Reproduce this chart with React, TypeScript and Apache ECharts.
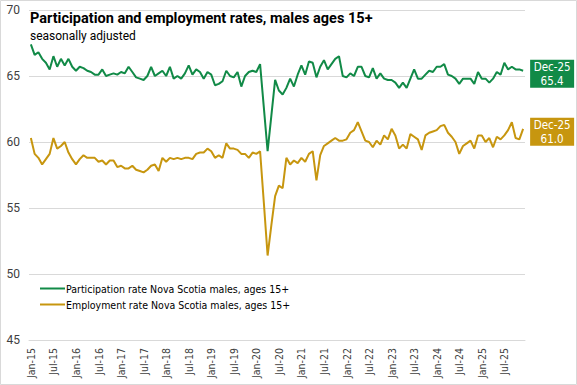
import React, { useEffect, useRef } from "react";
import * as echarts from "echarts";

const MONTHS = ["Jan", "Feb", "Mar", "Apr", "May", "Jun", "Jul", "Aug", "Sep", "Oct", "Nov", "Dec"];
const YEARS = ["15", "16", "17", "18", "19", "20", "21", "22", "23", "24", "25"];
const categories: string[] = [];
YEARS.forEach((y) => MONTHS.forEach((m) => categories.push(`${m}-${y}`)));

const participation = [
  67.4, 66.6, 66.8, 66.3, 66.0, 65.5, 66.5, 65.7, 66.3, 65.8, 66.3, 65.7,
  65.4, 65.7, 65.6, 65.4, 65.3, 65.1, 65.1, 65.5, 65.0, 65.1, 65.2, 65.1,
  65.3, 65.2, 65.7, 65.3, 64.9, 64.8, 64.7, 65.0, 65.7, 65.0, 65.2, 65.4,
  65.0, 65.7, 64.8, 65.0, 64.8, 65.2, 65.8, 65.1, 65.5, 65.3, 64.8, 65.3,
  65.1, 64.3, 64.4, 64.6, 65.4, 65.0, 64.9, 65.3, 64.2, 65.0, 65.3, 65.4,
  65.3, 65.9, 62.6, 59.3, 62.0, 64.7, 63.9, 63.6, 64.1, 64.8, 64.2, 65.1,
  65.8, 65.1, 66.1, 66.0, 64.9, 65.7, 66.2, 65.5, 65.9, 66.3, 66.5, 65.0,
  64.9, 65.2, 65.0, 65.7, 65.7, 65.0, 64.9, 65.6, 64.8, 65.2, 64.8, 64.7,
  64.7, 64.5, 64.1, 64.5, 64.1, 64.8, 65.5, 64.8, 64.8, 65.1, 65.4, 65.3,
  65.7, 65.7, 65.9, 65.1, 65.0, 64.8, 64.4, 64.8, 64.8, 64.8, 64.4, 65.3,
  64.8, 64.8, 64.5, 64.8, 65.3, 65.1, 66.0, 65.5, 65.7, 65.5, 65.5, 65.4,
];

const employment = [
  60.3, 59.1, 58.8, 58.3, 58.7, 59.1, 60.3, 59.5, 59.7, 60.0, 59.2, 58.7,
  58.3, 58.7, 59.0, 58.8, 58.8, 58.8, 58.5, 58.6, 58.3, 58.6, 58.6, 58.1,
  58.2, 58.0, 58.0, 58.2, 57.9, 57.8, 57.7, 57.9, 58.2, 58.3, 57.8, 58.8,
  58.5, 58.8, 58.7, 58.8, 58.7, 58.8, 58.8, 58.7, 59.1, 59.2, 59.2, 59.5,
  59.3, 58.8, 59.0, 58.8, 59.9, 59.5, 59.5, 59.4, 59.1, 59.1, 58.8, 59.2,
  59.1, 59.3, 55.4, 51.4, 53.7, 55.9, 56.7, 56.5, 58.8, 58.3, 58.6, 58.4,
  58.8, 58.5, 59.1, 59.3, 57.1, 59.0, 59.7, 59.9, 60.1, 60.3, 60.1, 60.1,
  60.2, 60.7, 60.9, 61.5, 60.8, 60.1, 60.0, 59.6, 60.1, 59.8, 60.5, 60.2,
  61.0, 60.5, 59.5, 59.8, 59.5, 60.6, 60.4, 60.2, 59.4, 60.5, 60.7, 60.8,
  60.9, 61.2, 61.3, 60.7, 60.4, 60.0, 59.1, 59.7, 59.9, 60.1, 59.5, 60.5,
  60.5, 60.0, 60.3, 59.6, 60.4, 60.2, 60.5, 60.9, 61.5, 60.3, 60.2, 61.0,
];

const SERIES_NAMES = [
  "Participation rate Nova Scotia males, ages 15+",
  "Employment rate Nova Scotia males, ages 15+",
];
const TITLE = "Participation and employment rates, males ages 15+";
const SUBTITLE = "seasonally adjusted";

const GREEN = "#118a47";
const GOLD = "#c7960f";
const NARROW = "'DejaVu Sans Condensed', sans-serif";

export default function App() {
  const ref = useRef<HTMLDivElement>(null);
  useEffect(() => {
    document.body.style.margin = "0";
    if (!ref.current) return;
    const chart = echarts.init(ref.current, null, { renderer: "svg" });
    const endLabel = (color: string) => ({
      show: true,
      formatter: (p: any) => `${categories[p.dataIndex]}\n${Number(p.value).toFixed(1)}`,
      backgroundColor: color,
      color: "#fff",
      fontFamily: NARROW,
      fontSize: 11.5,
      lineHeight: 14,
      padding: [0, 4, 0, 4],
      distance: 6,
      offset: [23, 3],
      align: "center",
      width: 36,
    });
    chart.setOption({
      animation: false,
      backgroundColor: "#fff",
      title: {
        text: TITLE,
        subtext: SUBTITLE,
        left: 25,
        top: 11,
        itemGap: 4,
        textStyle: { fontFamily: "Roboto", fontWeight: "bold", fontSize: 14.5, color: "#000" },
        subtextStyle: { fontFamily: "Roboto", fontSize: 12, color: "#000" },
        padding: [0, 5],
      },
      grid: { left: 29, right: 52, top: 10, bottom: 45 },
      legend: {
        orient: "vertical",
        left: 35,
        top: 278,
        itemWidth: 25,
        itemHeight: 2,
        itemGap: 5,
        icon: "rect",
        textStyle: { fontFamily: NARROW, fontSize: 10.5, color: "#000", padding: [0, 0, 0, -4] },
        data: SERIES_NAMES,
      },
      xAxis: {
        type: "category",
        data: categories,
        boundaryGap: true,
        axisLine: { show: true, lineStyle: { color: "#d9d9d9" } },
        axisTick: { show: false },
        axisLabel: {
          interval: 5,
          rotate: 90,
          fontFamily: NARROW,
          fontSize: 10.5,
          color: "#404040",
          margin: 8,
        },
      },
      yAxis: {
        type: "value",
        min: 45,
        max: 70,
        interval: 5,
        axisLine: { show: false },
        axisTick: { show: false },
        splitLine: { lineStyle: { color: "#d9d9d9" } },
        axisLabel: { fontFamily: "Roboto", fontSize: 12, color: "#404040", margin: 9 },
      },
      graphic: [
        {
          type: "rect",
          shape: { x: 0.5, y: 0.5, width: 576, height: 384 },
          style: { fill: "none", stroke: "#d9d9d9", lineWidth: 1 },
          silent: true,
        },
      ],
      series: [
        {
          name: SERIES_NAMES[0],
          type: "line",
          data: participation,
          symbol: "none",
          lineStyle: { color: GREEN, width: 2 },
          itemStyle: { color: GREEN },
          endLabel: endLabel(GREEN),
        },
        {
          name: SERIES_NAMES[1],
          type: "line",
          data: employment,
          symbol: "none",
          lineStyle: { color: GOLD, width: 2 },
          itemStyle: { color: GOLD },
          endLabel: endLabel(GOLD),
        },
      ],
    });
    return () => chart.dispose();
  }, []);
  return <div ref={ref} style={{ width: 577, height: 385 }} />;
}
